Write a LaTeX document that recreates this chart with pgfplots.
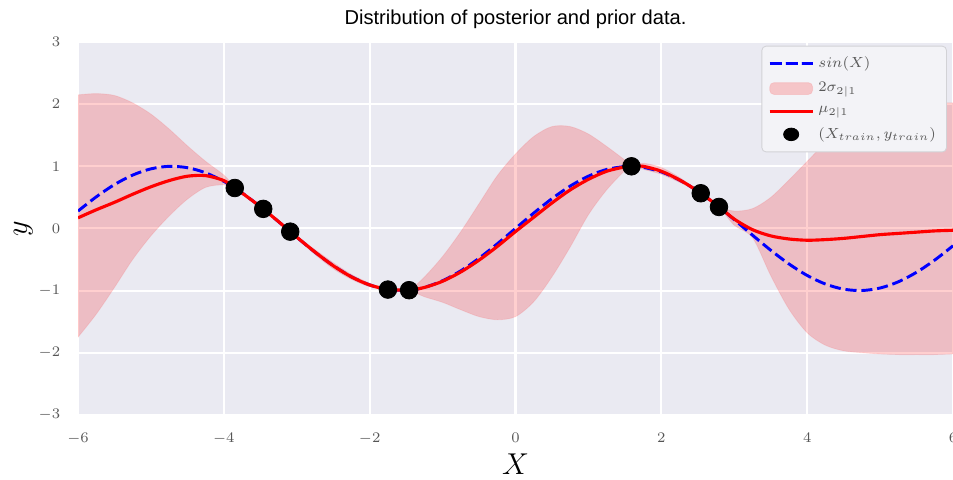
\documentclass[border=0pt]{standalone}
\usepackage{fontspec}
\setmainfont{Liberation Sans}
\usepackage{pgfplots}
\pgfplotsset{compat=1.18}
\usepackage{pgfplotstable}
\usepgfplotslibrary{fillbetween}

\definecolor{sbbg}{RGB}{234,234,242}
\definecolor{ticktext}{RGB}{85,85,85}
\definecolor{legbg}{RGB}{243,243,247}

% x, sin(x), posterior mean, mean + 2 sigma, mean - 2 sigma
\pgfplotstableread{
x sin mu up lo
-6.00 0.2794 0.17 2.15 -1.75
-5.75 0.5083 0.30 2.17 -1.38
-5.50 0.7055 0.42 2.14 -0.95
-5.25 0.8589 0.55 2.02 -0.50
-5.00 0.9589 0.67 1.84 -0.12
-4.75 0.9993 0.77 1.60 0.20
-4.50 0.9775 0.84 1.33 0.47
-4.25 0.8950 0.85 1.08 0.66
-4.00 0.7568 0.77 0.86 0.70
-3.85 0.6506 0.65 0.67 0.63
-3.75 0.5716 0.57 0.59 0.55
-3.50 0.3508 0.35 0.37 0.33
-3.25 0.1082 0.11 0.13 0.09
-3.00 -0.1411 -0.14 -0.12 -0.16
-2.75 -0.3817 -0.38 -0.34 -0.42
-2.50 -0.5985 -0.60 -0.55 -0.65
-2.25 -0.7781 -0.78 -0.74 -0.82
-2.00 -0.9093 -0.91 -0.88 -0.94
-1.75 -0.9840 -0.98 -0.97 -0.99
-1.46 -0.9939 -0.99 -0.98 -1.00
-1.25 -0.9490 -0.95 -0.78 -1.10
-1.00 -0.8415 -0.85 -0.45 -1.19
-0.75 -0.6816 -0.70 -0.05 -1.31
-0.50 -0.4794 -0.51 0.40 -1.42
-0.25 -0.2474 -0.29 0.85 -1.47
0.00 0.0000 -0.05 1.20 -1.42
0.25 0.2474 0.18 1.48 -1.18
0.50 0.4794 0.41 1.64 -0.78
0.75 0.6816 0.62 1.64 -0.30
1.00 0.8415 0.79 1.52 0.22
1.25 0.9490 0.92 1.32 0.62
1.50 0.9975 0.99 1.10 0.93
1.59 0.9998 1.00 1.01 0.99
1.75 0.9840 1.00 1.05 0.95
2.00 0.9093 0.92 0.98 0.87
2.25 0.7781 0.78 0.82 0.74
2.50 0.5985 0.60 0.61 0.59
2.79 0.3457 0.35 0.36 0.34
3.00 0.1411 0.15 0.28 0.05
3.25 -0.1082 -0.02 0.32 -0.15
3.50 -0.3508 -0.12 0.50 -0.76
3.75 -0.5716 -0.17 0.78 -1.30
4.00 -0.7568 -0.19 1.08 -1.68
4.25 -0.8950 -0.18 1.38 -1.88
4.50 -0.9775 -0.16 1.62 -1.97
4.75 -0.9993 -0.13 1.80 -2.00
5.00 -0.9589 -0.10 1.91 -2.02
5.25 -0.8589 -0.08 1.97 -2.03
5.50 -0.7055 -0.06 2.00 -2.03
5.75 -0.5083 -0.04 2.02 -2.03
6.00 -0.2794 -0.03 2.02 -2.02
}\gpdata

\begin{document}
\begin{tikzpicture}
\begin{axis}[
  name=main, at={(0,0)}, anchor=south west,
  scale only axis, width=14.69cm, height=6.26cm,
  xmin=-6, xmax=6, ymin=-3, ymax=3,
  xtick={-6,-4,...,6}, ytick={-3,...,3},
  axis background/.style={fill=sbbg},
  axis line style={draw=none},
  major tick length=0pt,
  grid=major, major grid style={white, line width=1pt},
  tick label style={font=\fontsize{7}{8}\selectfont, text=ticktext},
  xticklabel style={yshift=-5pt},
  yticklabel style={xshift=-5pt},
  xlabel={$X$}, ylabel={$y$},
  label style={font=\fontsize{15}{15}\selectfont},
  xlabel style={yshift=2pt},
  ylabel style={yshift=-4pt},
  title={Distribution of posterior and prior data.},
  title style={font=\fontsize{9.6}{11}\selectfont, yshift=-3pt},
  legend style={at={(0.993,0.99)}, anchor=north east,
    fill=legbg,
    draw={rgb,255:red,210;green,210;blue,214}, rounded corners=2pt,
    font=\fontsize{7.5}{9}\selectfont, text=black!65,
    row sep=1.5pt, inner sep=3pt},
  legend cell align=left,
  legend image post style={xscale=1.2},
]
\addplot[blue, line width=1.4pt, dash pattern=on 5.3pt off 2.3pt, smooth]
  table[x=x, y=sin] {\gpdata};
\addlegendentry{$sin(X)$}

\addplot[name path=U, draw=none, smooth, forget plot] table[x=x, y=up] {\gpdata};
\addplot[name path=L, draw=none, smooth, forget plot] table[x=x, y=lo] {\gpdata};
\addplot[area legend, fill=red, fill opacity=0.19, draw=red, draw opacity=0.08]
  fill between[of=U and L];
\addlegendentry{$2\sigma_{2|1}$}

\addplot[red, line width=1.5pt, smooth] table[x=x, y=mu] {\gpdata};
\addlegendentry{$\mu_{2|1}$}

\addplot[only marks, mark=*, mark size=4.2pt, black,
  legend image post style={mark size=3pt}] coordinates {
  (-3.85,0.6506) (-3.46,0.3146) (-3.09,-0.0516) (-1.75,-0.9840)
  (-1.46,-0.9939) (1.59,0.9998) (2.54,0.5660) (2.79,0.3457)
};
\addlegendentry{$(X_{train}, y_{train})$}
\end{axis}
\pgfresetboundingbox
\path[use as bounding box] (-1.31cm,-1.09cm) rectangle (14.69cm,6.965cm);
\end{tikzpicture}
\end{document}
